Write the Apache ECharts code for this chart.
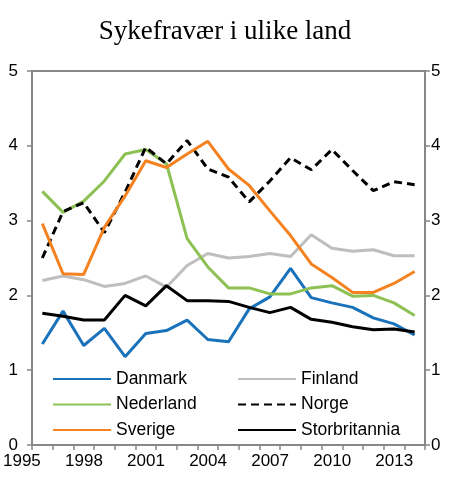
<!DOCTYPE html>
<html lang="no">
<head>
<meta charset="utf-8">
<title>Sykefravær i ulike land</title>
<script src="https://cdn.jsdelivr.net/npm/echarts@6/dist/echarts.min.js"></script>
<style>
html, body { margin: 0; padding: 0; background: #fff; }
#chart { width: 450px; height: 488px; }
</style>
</head>
<body>
<div id="chart"></div>
<script>
// år 1996-2014
var years = [1996, 1997, 1998, 1999, 2000, 2001, 2002, 2003, 2004, 2005,
             2006, 2007, 2008, 2009, 2010, 2011, 2012, 2013, 2014];
var labelYears = [1995, 1998, 2001, 2004, 2007, 2010, 2013];

var danmark = [1.35, 1.79, 1.33, 1.56, 1.18, 1.49, 1.53, 1.67, 1.41, 1.38,
               1.82, 1.98, 2.36, 1.97, 1.90, 1.84, 1.70, 1.62, 1.47];
var finland = [2.20, 2.26, 2.21, 2.12, 2.16, 2.26, 2.11, 2.40, 2.56, 2.50,
               2.52, 2.56, 2.52, 2.81, 2.63, 2.59, 2.61, 2.53, 2.53];
var nederland = [3.39, 3.11, 3.26, 3.53, 3.89, 3.95, 3.76, 2.76, 2.38, 2.10,
                 2.10, 2.02, 2.02, 2.10, 2.13, 1.99, 2.00, 1.90, 1.73];
var norge = [2.50, 3.12, 3.24, 2.84, 3.38, 3.98, 3.76, 4.07, 3.69, 3.58,
             3.25, 3.53, 3.84, 3.68, 3.95, 3.67, 3.40, 3.52, 3.48];
var sverige = [2.96, 2.29, 2.28, 2.91, 3.33, 3.80, 3.71, 3.89, 4.06, 3.69,
               3.47, 3.13, 2.80, 2.42, 2.24, 2.04, 2.04, 2.16, 2.32];
var storbritannia = [1.76, 1.72, 1.67, 1.67, 2.00, 1.86, 2.13, 1.93, 1.93, 1.92,
                     1.84, 1.77, 1.84, 1.68, 1.64, 1.58, 1.54, 1.55, 1.51];

var axisColor = '#878787';
var font = 'Liberation Sans, Arial, sans-serif';

function pairs(vals) {
    return years.map(function (y, i) { return [y, vals[i]]; });
}

function line(name, vals, color, type) {
    return {
        name: name,
        type: 'line',
        symbol: 'none',
        data: pairs(vals),
        lineStyle: { color: color, width: 3, type: type || 'solid' },
        itemStyle: { color: color }
    };
}

function yAxis(pos) {
    return {
        type: 'value',
        position: pos,
        min: 0,
        max: 5,
        interval: 1,
        axisLine: { show: true, lineStyle: { color: axisColor, width: 2 } },
        axisTick: { show: true, length: 5, lineStyle: { color: axisColor, width: 1.5 } },
        splitLine: { show: false },
        axisLabel: {
            color: '#000',
            fontSize: 17,
            fontFamily: font,
            margin: pos == 'left' ? 14 : 6
        }
    };
}

function legend(left, names) {
    return {
        data: names,
        orient: 'vertical',
        left: left,
        top: 370,
        padding: 0,
        itemWidth: 58,
        itemHeight: 14,
        itemGap: 7.5,
        selectedMode: false,
        itemStyle: { opacity: 0 },
        textStyle: { color: '#000', fontSize: 17.5, fontFamily: font }
    };
}

var chart = echarts.init(document.getElementById('chart'));
chart.setOption({
    animation: false,
    title: {
        text: 'Sykefravær i ulike land',
        left: 'center',
        top: 13,
        textStyle: { fontFamily: 'Liberation Serif, Times New Roman, serif', fontSize: 27, fontWeight: 'normal', color: '#000' }
    },
    grid: {
        left: 28, right: 25, top: 71, bottom: 43,
        show: true, borderColor: axisColor, borderWidth: 2
    },
    legend: [
        legend(52, ['Danmark', 'Nederland', 'Sverige']),
        legend(237, ['Finland', 'Norge', 'Storbritannia'])
    ],
    xAxis: {
        type: 'value',
        min: 1995.5,
        max: 2014.5,
        interval: 1,
        axisLine: { show: true, lineStyle: { color: axisColor, width: 2 } },
        axisTick: { show: true, length: 5, lineStyle: { color: axisColor, width: 1.5 } },
        splitLine: { show: false },
        axisLabel: {
            margin: 8,
            showMaxLabel: true,
            // årstall står midt på året, et halvt intervall til venstre for streken
            formatter: function (v) {
                var y = Math.round(v - 0.5);
                return labelYears.indexOf(y) >= 0 ? '{a|' + y + '}' : '';
            },
            rich: {
                a: { width: 58, align: 'left', color: '#000', fontSize: 17, fontFamily: font }
            }
        }
    },
    yAxis: [yAxis('left'), yAxis('right')],
    series: [
        line('Danmark', danmark, '#1A72BB'),
        line('Finland', finland, '#BEBEBE'),
        line('Nederland', nederland, '#8DC153'),
        line('Norge', norge, '#000', [8, 5]),
        line('Sverige', sverige, '#F58220'),
        line('Storbritannia', storbritannia, '#000')
    ]
});
</script>
</body>
</html>
